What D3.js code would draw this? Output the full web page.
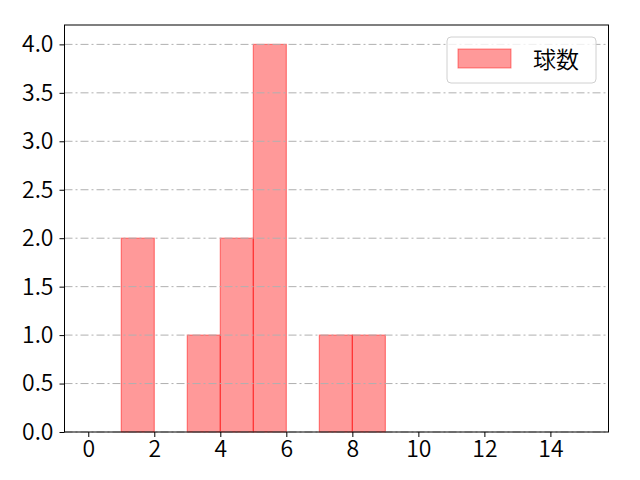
<!DOCTYPE html>
<html>
<head>
<meta charset="utf-8">
<script src="https://cdn.jsdelivr.net/npm/d3@7"></script>
<style>
  body { margin: 0; background: #fff; }
  text { font-family: "Noto Sans CJK JP", "DejaVu Sans", sans-serif; }
</style>
</head>
<body>
<div id="chart"></div>
<script>
const binStarts = [1, 3, 4, 5, 7, 8];
const binCounts = [2, 1, 2, 4, 1, 1];
const binWidth = 1;
const xTicks = [0, 2, 4, 6, 8, 10, 12, 14];
const yTicks = [0, 0.5, 1, 1.5, 2, 2.5, 3, 3.5, 4];
const legendLabel = '球数';

const svgWidth = 640;
const svgHeight = 480;
const margin = { top: 25, right: 31.5, bottom: 48, left: 64.5 };
const chartWidth = svgWidth - margin.left - margin.right;
const chartHeight = svgHeight - margin.top - margin.bottom;

const svg = d3.select('#chart').append('svg')
  .attr('width', svgWidth)
  .attr('height', svgHeight);

const chartGroup = svg.append('g')
  .attr('transform', `translate(${margin.left}, ${margin.top})`);

const xScale = d3.scaleLinear().domain([-0.72, 15.76]).range([0, chartWidth]);
const yScale = d3.scaleLinear().domain([0, 4.2]).range([chartHeight, 0]);

// bars
chartGroup.selectAll('rect.bar')
  .data(binStarts.map((s, i) => ({ start: s, count: binCounts[i] })))
  .enter()
  .append('rect')
  .classed('bar', true)
  .attr('x', d => xScale(d.start))
  .attr('y', d => yScale(d.count))
  .attr('width', d => xScale(d.start + binWidth) - xScale(d.start))
  .attr('height', d => yScale(0) - yScale(d.count))
  .attr('fill', 'red')
  .attr('fill-opacity', 0.4)
  .attr('stroke', 'red')
  .attr('stroke-opacity', 0.45)
  .attr('stroke-width', 1.2);

// grid (drawn over the bars)
chartGroup.selectAll('line.grid')
  .data(yTicks)
  .enter()
  .append('line')
  .classed('grid', true)
  .attr('x1', 0)
  .attr('x2', chartWidth)
  .attr('y1', d => yScale(d))
  .attr('y2', d => yScale(d))
  .attr('stroke', '#b0b0b0')
  .attr('stroke-width', 1)
  .attr('stroke-dasharray', '8,3,2,3');

// axes
const bottomAxis = d3.axisBottom(xScale).tickValues(xTicks).tickSize(5).tickPadding(4)
  .tickFormat(d3.format('d'));
const leftAxis = d3.axisLeft(yScale).tickValues(yTicks).tickSize(5).tickPadding(6)
  .tickFormat(d3.format('.1f'));

const xAxis = chartGroup.append('g')
  .attr('transform', `translate(0, ${chartHeight})`)
  .call(bottomAxis);
const yAxis = chartGroup.append('g').call(leftAxis);

[xAxis, yAxis].forEach(a => {
  a.select('.domain').remove();
  a.selectAll('text')
    .style('font-size', '23px')
    .style('font-weight', 350)
    .style('font-family', '"Noto Sans CJK JP", "DejaVu Sans", sans-serif')
    .attr('fill', '#000');
  a.selectAll('line').attr('stroke', '#000');
});

// frame
chartGroup.append('rect')
  .attr('x', 0).attr('y', 0)
  .attr('width', chartWidth).attr('height', chartHeight)
  .attr('fill', 'none')
  .attr('stroke', '#000')
  .attr('stroke-width', 1);

// legend
const legend = chartGroup.append('g')
  .attr('transform', `translate(${chartWidth - 161.5}, 12)`);
legend.append('rect')
  .attr('width', 149).attr('height', 46)
  .attr('rx', 4)
  .attr('fill', '#fff').attr('fill-opacity', 0.8)
  .attr('stroke', '#d0d0d0');
legend.append('rect')
  .attr('x', 11).attr('y', 12)
  .attr('width', 53).attr('height', 19)
  .attr('fill', 'red').attr('fill-opacity', 0.4)
  .attr('stroke', 'red').attr('stroke-opacity', 0.45);
legend.append('text')
  .attr('x', 86).attr('y', 23)
  .attr('dy', '0.35em')
  .style('font-size', '23px')
  .style('font-weight', 350)
  .text(legendLabel);
</script>
</body>
</html>
